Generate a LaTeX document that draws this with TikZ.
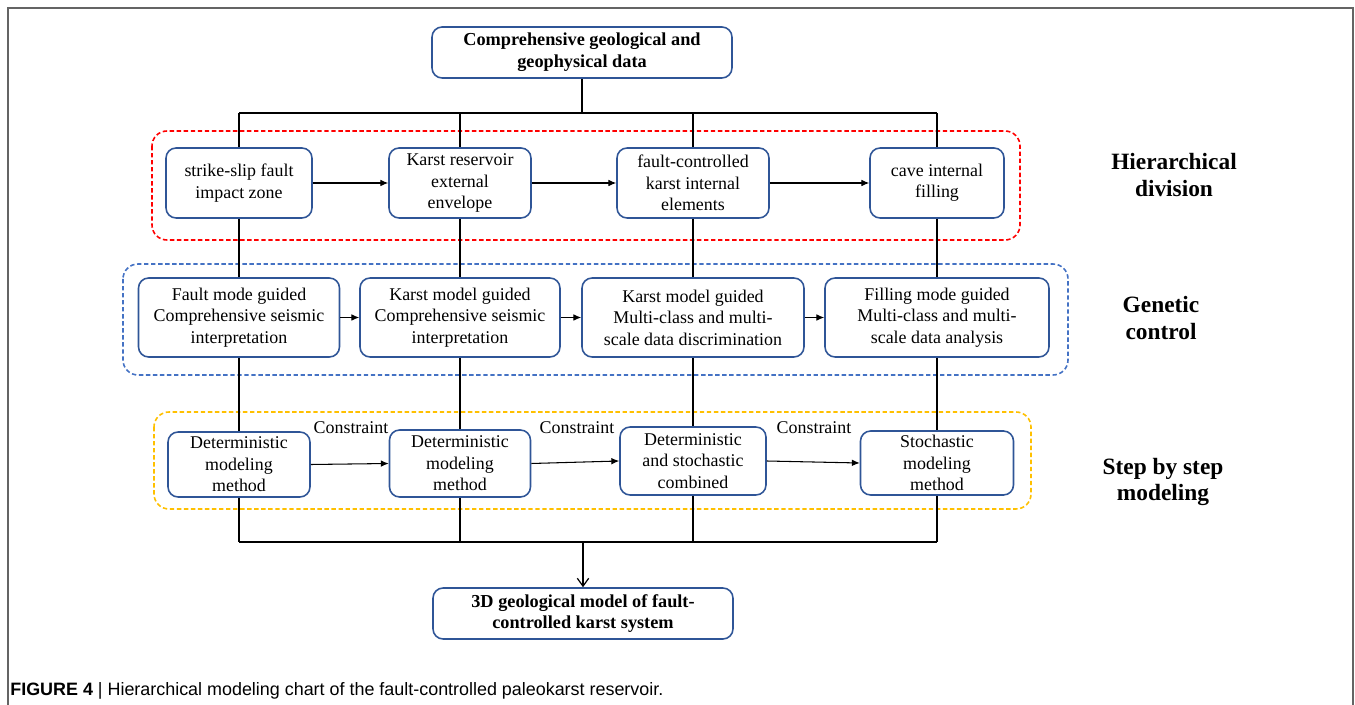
\documentclass[tikz,border=0pt]{standalone}
\usepackage{fontspec}
\setmainfont{Liberation Serif}
\newfontfamily\capfont{Liberation Sans}
\usetikzlibrary{arrows.meta}

\definecolor{boxblue}{RGB}{47,85,151}
\definecolor{zonered}{RGB}{255,0,0}
\definecolor{zoneblue}{RGB}{68,114,196}
\definecolor{zoneyellow}{RGB}{255,192,0}
\definecolor{framegray}{RGB}{100,100,100}

\begin{document}
\begin{tikzpicture}[x=0.02cm, y=-0.02cm,
    box/.style={draw=boxblue, line width=0.9pt, rounded corners=0.2cm, fill=white,
        align=center, inner sep=1pt, font=\fontsize{10.2}{12.2}\selectfont},
    bbox/.style={box, font=\bfseries\fontsize{10.4}{12.4}\selectfont},
    link/.style={line width=0.7pt},
    flow/.style={line width=0.6pt, -{Latex[length=4.5pt,width=3.8pt]}},
    zone/.style={line width=0.9pt, dash pattern=on 2.5pt off 1.5pt, rounded corners=0.3cm},
    tag/.style={align=center, font=\bfseries\fontsize{13.3}{15.3}\selectfont},
    cons/.style={font=\fontsize{10.2}{12.2}\selectfont, inner sep=0pt}]
    \useasboundingbox (0,0) rectangle (1355,705);

    % Outer frame
    \draw[framegray, line width=1pt] (8,705) -- (8,8) -- (1353,8) -- (1353,705);

    % Dashed zones
    \draw[zone, zonered] (152,131) rectangle (1020,240);
    \draw[zone, zoneblue] (123,264) rectangle (1068,375);
    \draw[zone, zoneyellow] (154,412) rectangle (1031,509);

    % Top and bottom boxes
    \node[bbox, minimum width=6cm, minimum height=1.02cm] (T) at (582,52.5)
        {Comprehensive geological and\\geophysical data};
    \node[bbox, minimum width=6cm, minimum height=1.02cm] (D) at (583,613.5)
        {3D geological model of fault-\\controlled karst system};

    % Row 1: hierarchical division
    \node[box, minimum width=2.92cm, minimum height=1.4cm] (A1) at (239,183) {strike-slip fault\\impact zone};
    \node[box, minimum width=2.84cm, minimum height=1.4cm] (A2) at (460,183) {Karst reservoir\\external\\envelope};
    \node[box, minimum width=3.04cm, minimum height=1.4cm] (A3) at (693,183) {fault-controlled\\karst internal\\elements};
    \node[box, minimum width=2.68cm, minimum height=1.4cm] (A4) at (937,183) {cave internal\\filling};

    % Row 2: genetic control
    \node[box, minimum width=4.02cm, minimum height=1.58cm] (B1) at (239,317.5) {Fault mode guided\\Comprehensive seismic\\interpretation};
    \node[box, minimum width=4.0cm, minimum height=1.58cm] (B2) at (460,317.5) {Karst model guided\\Comprehensive seismic\\interpretation};
    \node[box, minimum width=4.44cm, minimum height=1.58cm] (B3) at (693,317.5) {Karst model guided\\Multi-class and multi-\\scale data discrimination};
    \node[box, minimum width=4.48cm, minimum height=1.58cm] (B4) at (937,317.5) {Filling mode guided\\Multi-class and multi-\\scale data analysis};

    % Row 3: step by step modeling
    \node[box, minimum width=2.84cm, minimum height=1.3cm] (C1) at (239,464.5) {Deterministic\\modeling\\method};
    \node[box, minimum width=2.82cm, minimum height=1.34cm] (C2) at (460,463.5) {Deterministic\\modeling\\method};
    \node[box, minimum width=2.92cm, minimum height=1.36cm] (C3) at (693,461) {Deterministic\\and stochastic\\combined};
    \node[box, minimum width=3.06cm, minimum height=1.28cm] (C4) at (937,463) {Stochastic\\modeling\\method};

    \node[cons, anchor=base] (k1) at (351,434) {Constraint};
    \node[cons, anchor=base] (k2) at (577,434) {Constraint};
    \node[cons, anchor=base] (k3) at (814,434) {Constraint};

    % Side labels
    \node[tag] (h1) at (1174,175) {Hierarchical\\division};
    \node[tag] (h2) at (1161,318) {Genetic\\control};
    \node[tag] (h3) at (1163,482) {Step by step\\modeling};

    % Bus coordinates
    \coordinate (bt) at (582,113);
    \coordinate (b1) at (239,113);
    \coordinate (b2) at (460,113);
    \coordinate (b3) at (693,113);
    \coordinate (b4) at (937,113);
    \coordinate (m0) at (583,542);
    \coordinate (m1) at (239,542);
    \coordinate (m2) at (460,542);
    \coordinate (m3) at (693,542);
    \coordinate (m4) at (937,542);

    % Vertical links
    \draw[link] (T.south) -- (bt);
    \draw[link] (b1) -- (b4);
    \foreach \i in {1,2,3,4} {
        \draw[link] (b\i) -- (A\i.north);
        \draw[link] (A\i.south) -- (B\i.north);
        \draw[link] (B\i.south) -- (C\i.north);
        \draw[link] (C\i.south) -- (m\i);
    }
    \draw[link] (m1) -- (m4);
    \draw[link, -{Straight Barb[length=4.5pt,width=6.5pt]}] (m0) -- (D.north);

    % Horizontal arrows
    \foreach \i/\j in {1/2,2/3,3/4} {
        \draw[flow] (A\i.east) -- (A\j.west);
        \draw[flow] (B\i.east) -- (B\j.west);
        \draw[flow] (C\i.east) -- (C\j.west);
    }

    % Caption
    \node[anchor=base west, inner sep=0pt, font=\capfont\fontsize{10.2}{12}\selectfont] (cap) at (10,695)
        {\textbf{FIGURE 4} | Hierarchical modeling chart of the fault-controlled paleokarst reservoir.};
\end{tikzpicture}
\end{document}
